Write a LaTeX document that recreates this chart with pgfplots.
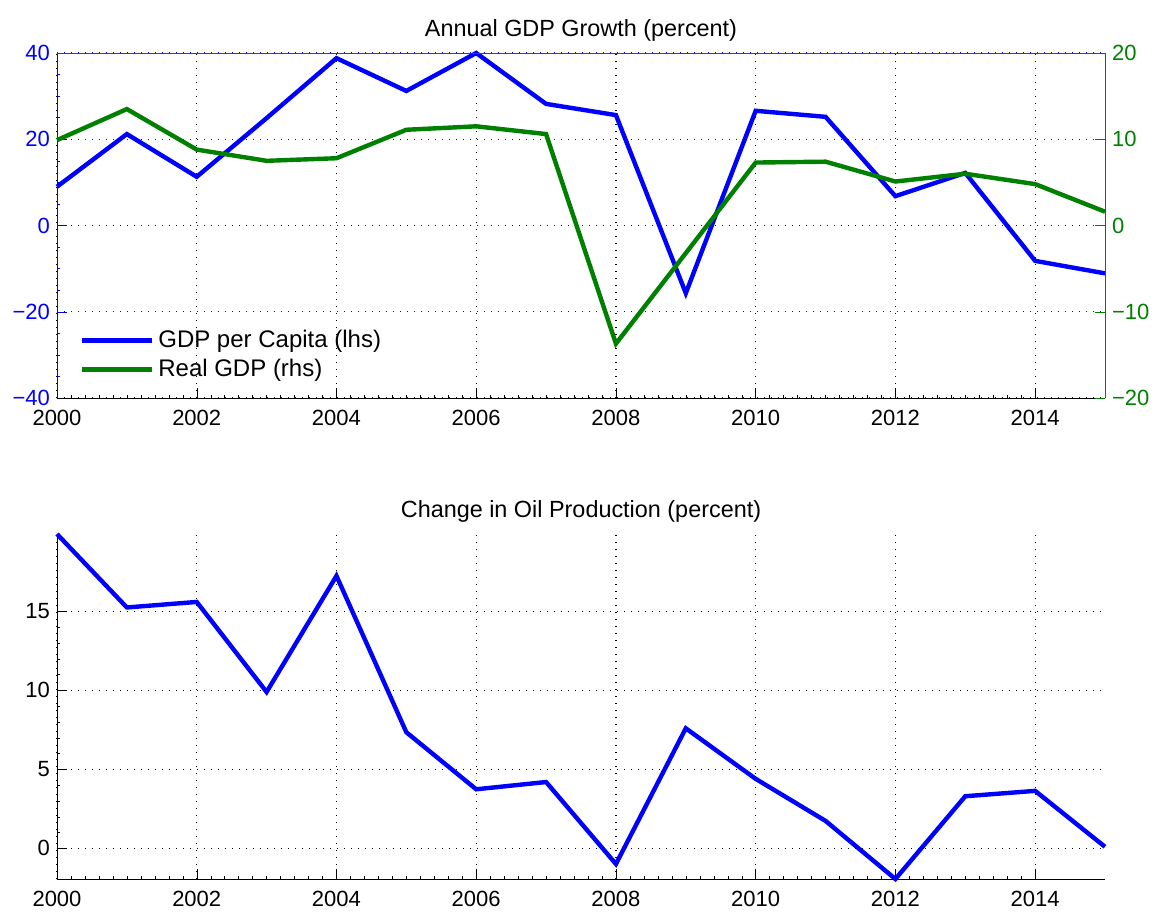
\documentclass[border=0pt]{standalone}
\usepackage{fontspec}
\setmainfont{Liberation Sans}
\usepackage{pgfplots}
\pgfplotsset{compat=1.18}
\definecolor{mblue}{RGB}{0,0,255}
\definecolor{mgreen}{RGB}{0,128,0}
\definecolor{mgray}{RGB}{70,70,70}

\pgfplotstableread{
year pc real oil
2000 9.0 9.9 19.9
2001 21.2 13.5 15.25
2002 11.3 8.8 15.6
2003 24.9 7.5 9.9
2004 38.8 7.8 17.25
2005 31.2 11.1 7.35
2006 40.0 11.5 3.74
2007 28.2 10.6 4.2
2008 25.6 -13.7 -0.99
2009 -15.7 -3.2 7.6
2010 26.6 7.3 4.4
2011 25.2 7.4 1.74
2012 6.8 5.1 -1.94
2013 12.2 6.0 3.3
2014 -8.2 4.8 3.64
2015 -11.1 1.6 0.1
}\data

\pgfplotsset{
  common/.style={
    scale only axis, width=524pt, height=172.5pt,
    xmin=2000, xmax=2015, clip=false,
    tick align=inside, major tick length=5pt, minor tick length=1.5pt,
    tick label style={font=\fontsize{11}{13}\selectfont},
    xticklabel style={yshift=-2.5pt},
    title style={font=\fontsize{11.7}{13}\selectfont, yshift=-3.5pt},
    grid style={line width=0.6pt, dash pattern=on 0.6pt off 2.9pt},
    axis line style={-},
  },
}

\begin{document}
\begin{tikzpicture}
\useasboundingbox (-28.5pt,-256.5pt) rectangle (549pt,199pt);
% top panel, left axis
\begin{axis}[common, at={(0,0)}, anchor=south west,
  ymin=-40, ymax=40,
  axis x line*=bottom, axis y line*=left,
  x axis line style={-, black}, y axis line style={-, mblue},
  xtick={2000,2002,2004,2006,2008,2010,2012,2014},
  xticklabels={2000,2002,2004,2006,2008,2010,2012,2014},
  minor x tick num=9,
  ytick={-40,-20,0,20,40},
  yticklabels={−40,−20,0,20,40},
  minor y tick num=3,
  yticklabel style={text=mblue},
  x tick style={black}, y tick style={mblue},
  grid=major,
  x grid style={black},
  y grid style={mblue},
  title={Annual GDP Growth (percent)},
]
\addplot[mblue, line width=2.2pt] table[x=year, y=pc] {\data};
\end{axis}
% top panel, right axis
\begin{axis}[common, at={(0,0)}, anchor=south west,
  ymin=-20, ymax=20,
  axis x line*=top, axis y line*=right,
  x axis line style={-, mgray}, y axis line style={-, mgreen},
  xtick=\empty,
  ytick={-20,-10,0,10,20},
  yticklabels={−20,−10,0,10,20},
  yticklabel style={text=mgreen},
  y tick style={mgreen},
  legend style={draw=none, fill=none, at={(axis description cs:0.0215,0.04)}, anchor=south west,
    font=\fontsize{12}{13}\selectfont, inner sep=0pt, row sep=0.3pt,
    legend cell align=left},
  legend image code/.code={\draw[#1] (0pt,0pt) -- (35pt,0pt);},
]
\addlegendimage{mblue, line width=2.2pt}
\addlegendentry{GDP per Capita (lhs)}
\addplot[mgreen, line width=2.2pt] table[x=year, y=real] {\data};
\addlegendentry{Real GDP (rhs)}
\end{axis}
% bottom panel
\begin{axis}[common, at={(0,-240.5pt)}, anchor=south west,
  ymin=-1.94, ymax=19.9,
  axis x line*=bottom, axis y line*=left,
  x axis line style={-, black}, y axis line style={-, black},
  xtick={2000,2002,2004,2006,2008,2010,2012,2014},
  xticklabels={2000,2002,2004,2006,2008,2010,2012,2014},
  minor x tick num=9,
  ytick={0,5,10,15},
  yticklabels={0,5,10,15},
  minor y tick num=4,
  tick style={black},
  grid=major,
  grid style={black},
  title={Change in Oil Production (percent)},
]
\addplot[mblue, line width=2.2pt] table[x=year, y=oil] {\data};
\end{axis}
\end{tikzpicture}
\end{document}
